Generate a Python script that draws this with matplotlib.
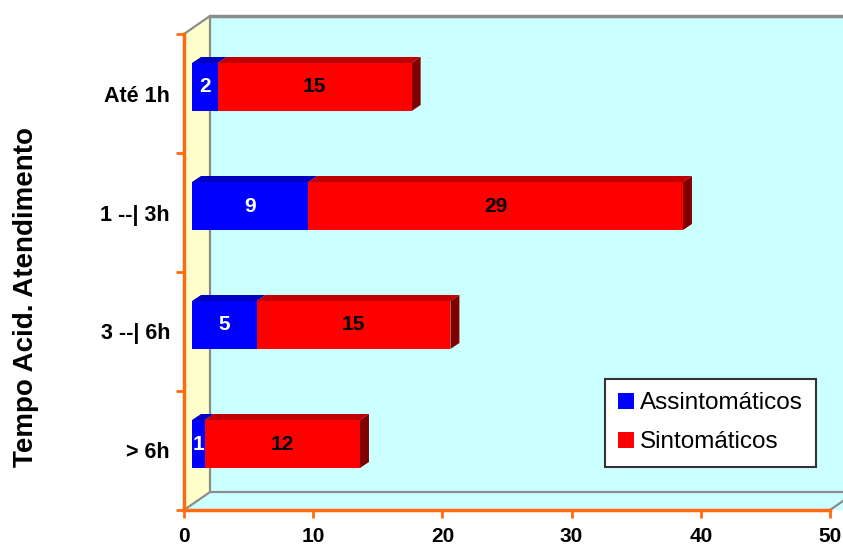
import matplotlib

matplotlib.use("Agg")
import matplotlib.pyplot as plt
from matplotlib.patches import Polygon, Rectangle

plt.rcParams["font.family"] = ["Liberation Sans", "DejaVu Sans"]

categories = ["Até 1h", "1 --| 3h", "3 --| 6h", "> 6h"]
assintomaticos = [2, 9, 5, 1]
sintomaticos = [15, 29, 15, 12]
series_names = ["Assintomáticos", "Sintomáticos"]
xticks = [0, 10, 20, 30, 40, 50]

W, H = 843, 544
X0, X1 = 184, 830          # pixel of value 0 and 50
YB, YT = 510, 34           # pixel of bottom and top of front plane
PX = 50 / (X1 - X0)        # data units per pixel
PY = 4 / (YB - YT)

ORANGE = "#FF6A10"
GRAY = "#8C8C8C"
FRONT = ["#0000FF", "#FF0000"]
TOP = ["#0000C0", "#C00000"]
SIDE = "#800000"

fig = plt.figure(figsize=(W / 100, H / 100), dpi=100)
ax = fig.add_axes([X0 / W, (H - YB) / H, (X1 - X0) / W, (YB - YT) / H])
ax.set_xlim(0, 50)
ax.set_ylim(0, 4)
ax.set_facecolor("none")

# ---- walls ----
wdx, wdy = 26 * PX, 18 * PY
far = 56
ax.add_patch(Rectangle((wdx, wdy), far, 4, fc="#CCFFFF", ec="none", clip_on=False, zorder=0))
ax.add_patch(Polygon([(0, 0), (far, 0), (far, wdy), (wdx, wdy)], closed=True,
                     fc="#CCFFFF", ec="none", clip_on=False, zorder=0))
ax.add_patch(Polygon([(0, 0), (wdx, wdy), (wdx, 4 + wdy), (0, 4)], closed=True,
                     fc="#FFFFCC", ec="none", clip_on=False, zorder=0))
edge = dict(color=GRAY, lw=1.6, clip_on=False, zorder=1, solid_capstyle="butt")
ax.plot([wdx, wdx], [wdy, 4 + wdy], **edge)
ax.plot([wdx, far], [4 + wdy, 4 + wdy], color=GRAY, lw=2.5, clip_on=False, zorder=1)
ax.plot([wdx, far], [wdy, wdy], **edge)
ax.plot([0, wdx], [4, 4 + wdy], **edge)
ax.plot([0, wdx], [0, wdy], **edge)
ax.plot([50, 50 + wdx], [0, wdy], **edge)

# ---- bars ----
ox, oy = 8 * PX, 6.5 * PY
bdx, bdy = 9 * PX, 6 * PY
bh = 48 * PY
for i, cat in enumerate(categories):
    yc = (len(categories) - 1 - i) + 0.5 + oy
    y0, y1 = yc - bh / 2, yc + bh / 2
    left = 0
    for k, vals in enumerate([assintomaticos, sintomaticos]):
        v = vals[i]
        xa, xb = ox + left, ox + left + v
        ax.add_patch(Rectangle((xa, y0), v, bh, fc=FRONT[k], ec="none", zorder=3))
        ax.add_patch(Polygon([(xa, y1), (xb, y1), (xb + bdx, y1 + bdy), (xa + bdx, y1 + bdy)],
                             closed=True, fc=TOP[k], ec="none", zorder=2))
        ax.text((xa + xb) / 2, yc, str(v), ha="center", va="center", fontsize=15,
                fontweight="bold", color="white" if k == 0 else "black", zorder=5)
        left += v
    xe = ox + left
    ax.add_patch(Polygon([(xe, y0), (xe, y1), (xe + bdx, y1 + bdy), (xe + bdx, y0 + bdy)],
                         closed=True, fc=SIDE, ec="none", zorder=2))

# ---- axes ----
for s in ["top", "right"]:
    ax.spines[s].set_visible(False)
for s in ["left", "bottom"]:
    ax.spines[s].set_color(ORANGE)
    ax.spines[s].set_linewidth(2.5)
    ax.spines[s].set_zorder(6)
ax.set_xticks(xticks)
ax.set_xticklabels([str(t) for t in xticks], fontsize=15, fontweight="bold")
ax.set_yticks([0, 1, 2, 3, 4])
ax.set_yticklabels([])
ax.set_yticks([3.5, 2.5, 1.5, 0.5], minor=True)
ax.set_yticklabels(categories, minor=True, fontsize=15.5, fontweight="bold")
ax.tick_params(axis="both", which="major", color=ORANGE, width=2, length=6, direction="out")
ax.tick_params(axis="x", pad=6)
ax.tick_params(axis="y", which="minor", length=0, pad=10)

fig.text(26 / W, 1 - 297 / H, "Tempo Acid. Atendimento", rotation=90, ha="center",
         va="center", fontsize=20, fontweight="bold")

# ---- legend ----
handles = [Rectangle((0, 0), 1, 1, fc=c, ec="none") for c in FRONT]
leg = ax.legend(handles, series_names, loc="upper left",
                bbox_to_anchor=(605 / W, 1 - 379 / H), bbox_transform=fig.transFigure,
                fontsize=17.5, frameon=True, fancybox=False, borderpad=0.55,
                handlelength=0.65, handleheight=0.65, handletextpad=0.25,
                labelspacing=0.7, borderaxespad=0, framealpha=1)
leg.get_frame().set_edgecolor("#333333")
leg.get_frame().set_linewidth(1.5)
leg.set_zorder(7)

fig.savefig("out.png", dpi=100)
